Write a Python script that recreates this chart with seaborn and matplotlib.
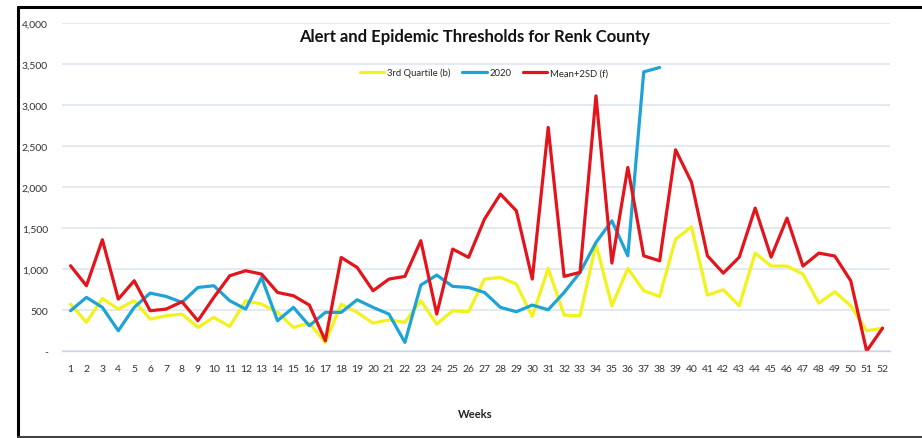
import numpy as np
import matplotlib
matplotlib.use("Agg")
import matplotlib.pyplot as plt
import matplotlib.ticker as mticker
from matplotlib.lines import Line2D
import seaborn as sns
import pandas as pd

weeks = list(range(1, 53))

# 3rd quartile (b)
q3 = [573, 350, 642, 512, 614, 390, 431, 451, 289, 411, 301, 614, 573,
      472, 289, 341, 106, 573, 472, 341, 382, 350, 614, 329, 492, 480,
      878, 898, 817, 423, 1008, 439, 431, 1305, 553, 1008, 736, 667, 1366, 1516,
      683, 748, 553, 1195, 1037, 1037, 939, 585, 723, 553, 248, 280]

# 2020 cases (stops at week 38)
y2020 = [492, 655, 533, 248, 533, 707, 667, 594, 776, 797, 614, 512, 898,
         370, 533, 309, 472, 472, 626, 533, 451, 106, 805, 927, 789, 776,
         715, 533, 480, 561, 504, 715, 960, 1325, 1589, 1162, 3406, 3459]

# Mean + 2SD (f)
mean2sd = [1041, 797, 1358, 634, 858, 492, 512, 602, 370, 655, 919, 980, 939,
           715, 675, 561, 126, 1142, 1020, 736, 878, 911, 1346, 451, 1244, 1143,
           1610, 1915, 1711, 878, 2728, 911, 960, 3113, 1073, 2240, 1162, 1101, 2455, 2060,
           1162, 951, 1146, 1744, 1146, 1622, 1037, 1195, 1159, 858, 0, 280]

series_names = ["3rd Quartile (b)", "2020", "Mean+2SD (f)"]
colors = ["#f2f21c", "#1ea3d6", "#e3141b"]

df = pd.concat([
    pd.DataFrame({"week": weeks, "value": q3, "series": series_names[0]}),
    pd.DataFrame({"week": weeks[:len(y2020)], "value": y2020, "series": series_names[1]}),
    pd.DataFrame({"week": weeks, "value": mean2sd, "series": series_names[2]}),
])

sns.set_style("white")
plt.rcParams["font.family"] = ["Lato", "DejaVu Sans"]

fig = plt.figure(figsize=(9.22, 4.39), dpi=100)
ax = fig.add_axes([0.067, 0.198, 0.898, 0.747])

sns.lineplot(data=df, x="week", y="value", hue="series", hue_order=series_names,
             palette=colors, linewidth=2.3, ax=ax, legend=False)

ax.set_xlim(0.45, 52.45)
ax.set_ylim(0, 4000)
ax.set_yticks(np.arange(0, 4001, 500))
ax.yaxis.set_major_formatter(mticker.FuncFormatter(lambda v, p: "-" if v == 0 else f"{int(v):,}"))
ax.set_xticks(weeks)
ax.set_xticklabels([str(w) for w in weeks], fontsize=7.5, color="#333333")
ax.tick_params(axis="y", labelsize=7.5, colors="#333333", length=0, pad=10)
ax.tick_params(axis="x", length=3, width=0.6, color="#c8d6e6", pad=6)
ax.grid(axis="y", color="#e3eaf2", linewidth=1.4)
ax.set_axisbelow(True)
for s in ax.spines.values():
    s.set_visible(False)
ax.spines["bottom"].set_visible(True)
ax.spines["bottom"].set_color("#c8d6e6")
ax.spines["bottom"].set_linewidth(1.0)
ax.set_xlabel("")
ax.set_ylabel("")

ax.text(0.498, 0.96, "Alert and Epidemic Thresholds for Renk County",
        transform=ax.transAxes, ha="center", va="center",
        fontsize=12, fontweight="bold", color="#111111")

handles = [Line2D([], [], color=c, linewidth=2.3) for c in colors]
ax.legend(handles, series_names, loc="center", bbox_to_anchor=(0.51, 0.85),
          ncol=3, frameon=False, fontsize=6.8, handlelength=2.6, columnspacing=1.2,
          handletextpad=0.3)

fig.text(0.515, 0.055, "Weeks", ha="center", va="center", fontsize=8,
         fontweight="bold", color="#222222")

# black frame (top, left, bottom) around the chart
frame_kw = dict(transform=fig.transFigure, color="black", linewidth=2.2)
fig.add_artist(Line2D([0.02, 1.0], [0.982, 0.982], **frame_kw))
fig.add_artist(Line2D([0.02, 0.02], [0.003, 0.982], **frame_kw))
fig.add_artist(Line2D([0.02, 1.0], [0.003, 0.003], transform=fig.transFigure,
                      color="#444444", linewidth=2.2))

fig.savefig("out.png", dpi=100)
